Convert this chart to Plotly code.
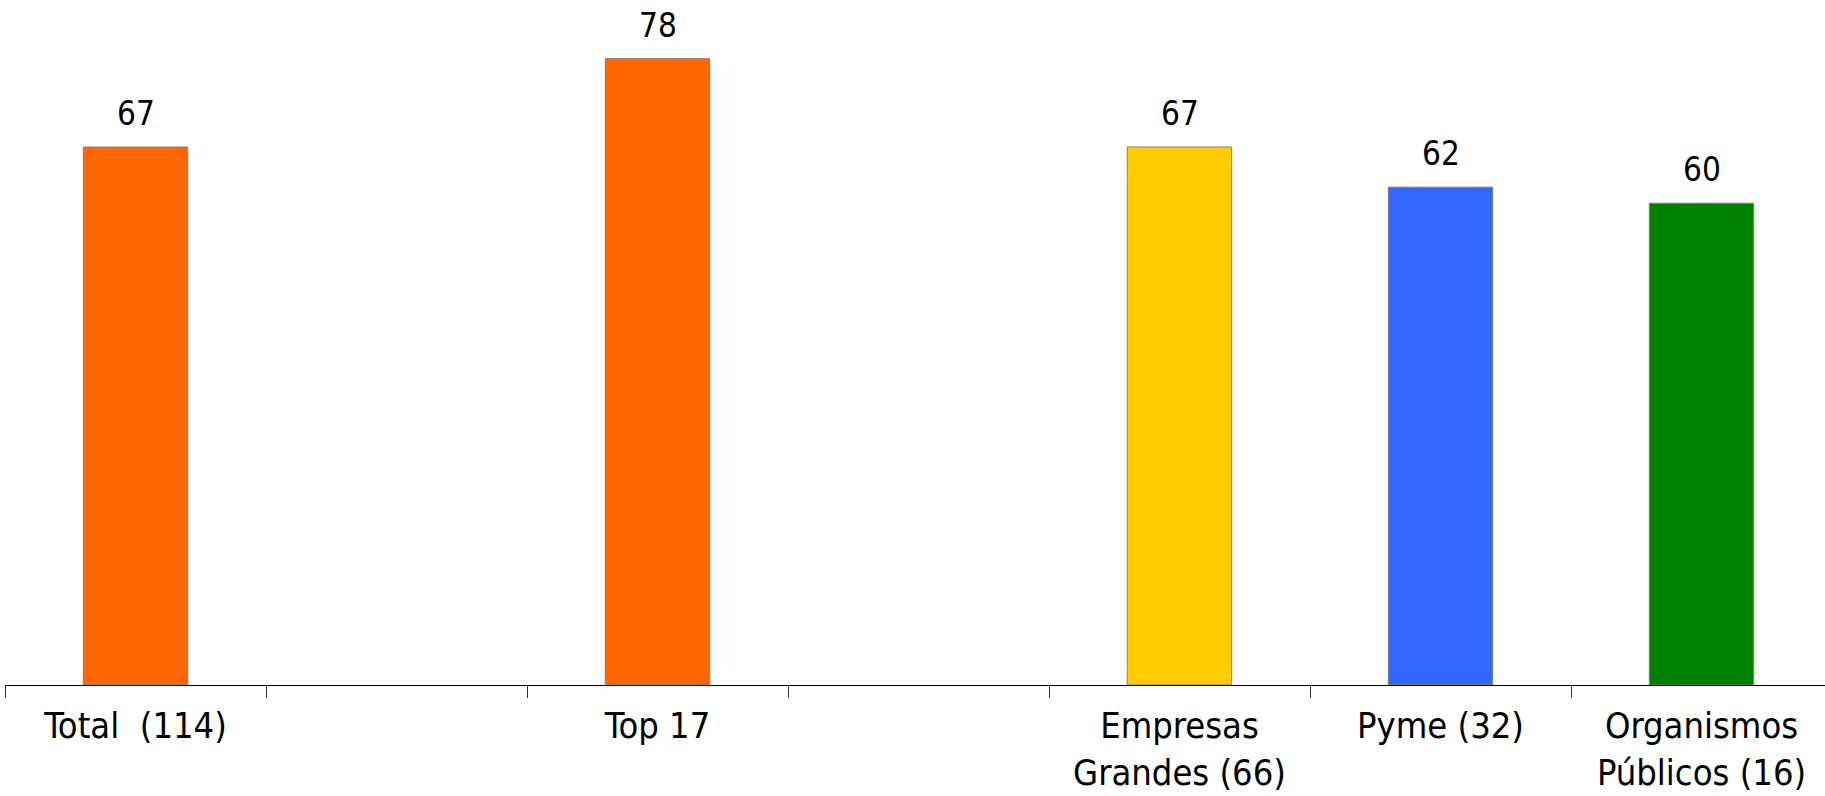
import plotly.graph_objects as go

categories = ["Total  (114)", " ", "Top 17", "  ", "Empresas<br>Grandes (66)", "Pyme (32)", "Organismos<br>Públicos (16)"]
bar_categories = ["Total  (114)", "Top 17", "Empresas<br>Grandes (66)", "Pyme (32)", "Organismos<br>Públicos (16)"]
values = [67, 78, 67, 62, 60]
colors = ["#FF6600", "#FF6600", "#FFCC00", "#3366FF", "#008000"]

FONT = "DejaVu Sans Condensed, DejaVu Sans, sans-serif"

fig = go.Figure()
fig.add_trace(go.Bar(
    x=bar_categories, y=values,
    marker=dict(color=colors, line=dict(color="#808080", width=1)),
    width=0.4,
    cliponaxis=False,
))

for c, v in zip(bar_categories, values):
    fig.add_annotation(
        x=c, y=v, text=str(v), showarrow=False,
        xanchor="center", yanchor="bottom", yshift=12,
        font=dict(family=FONT, size=33, color="black"),
    )

W, H = 1825, 796
ml, mr, mt, mb = 5, 0, 0, 111
cat_px = 261.0
plot_w = W - ml - mr
fig.update_layout(
    width=W, height=H,
    margin=dict(l=ml, r=mr, t=mt, b=mb, pad=0, autoexpand=False),
    plot_bgcolor="white", paper_bgcolor="white",
    showlegend=False,
    font=dict(family=FONT, color="black"),
    xaxis=dict(
        type="category", categoryorder="array", categoryarray=categories,
        range=[-0.5, -0.5 + plot_w / cat_px],
        tickson="boundaries", ticks="outside", ticklen=12, tickwidth=1, tickcolor="#333333",
        showline=True, linecolor="black", linewidth=1,
        showgrid=False, zeroline=False, automargin=False,
        tickfont=dict(family=FONT, size=36, color="black"),
        ticklabelstandoff=9,
    ),
    yaxis=dict(
        range=[0, 685 / 8.03], visible=False, showgrid=False, zeroline=False,
        automargin=False,
    ),
)

fig.write_html("out.html")
